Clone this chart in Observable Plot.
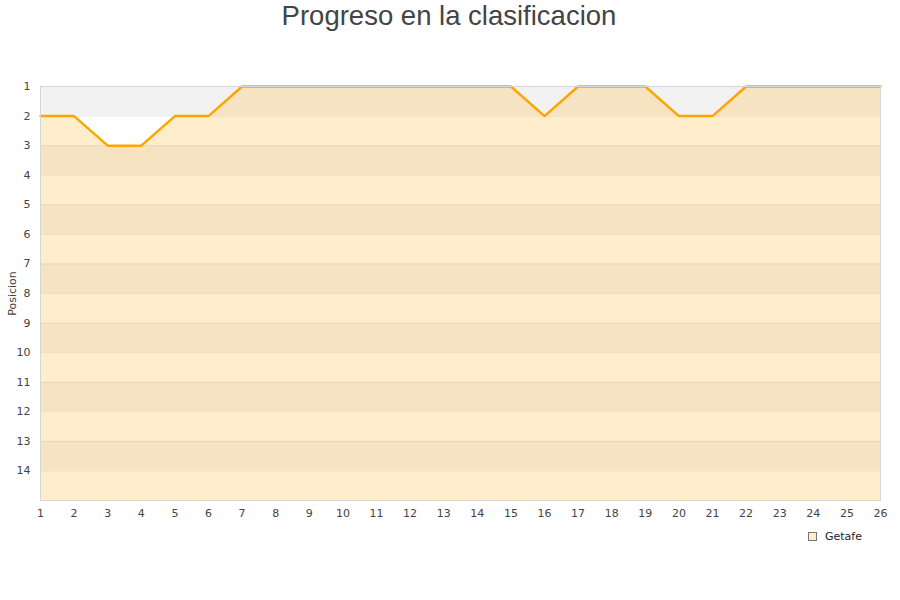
<!DOCTYPE html>
<html><head><meta charset="utf-8">
<script src="https://cdn.jsdelivr.net/npm/d3@7"></script>
<script src="https://cdn.jsdelivr.net/npm/@observablehq/plot@0.6"></script>
<style>
body{margin:0;background:#fff;font-family:"DejaVu Sans",sans-serif;}
#wrap{position:relative;width:900px;height:600px;}
#title{position:absolute;left:0;top:0;width:898px;text-align:center;font-family:"Liberation Sans",Arial,sans-serif;font-size:27.5px;color:#444;line-height:32px;}
#legend{position:absolute;left:808px;top:530px;font-size:11px;color:#222;display:flex;align-items:center;}
#legend span.sw{display:inline-block;width:7px;height:7px;border:1px solid #777;background:#ffedcc;margin-right:8px;}
#chart{position:absolute;left:0;top:0;}
</style></head>
<body><div id="wrap"><div id="title">Progreso en la clasificacion</div><div id="chart"></div><div id="legend"><span class="sw"></span>Getafe</div></div>
<script>
const jornadas = d3.range(1, 27);
const posiciones = [2,2,3,3,2,2,1,1,1,1,1,1,1,1,1,2,1,1,1,2,2,1,1,1,1,1];
const yTicks = d3.range(1, 15);
const equipo = "Getafe";

const data = jornadas.map((j, i) => ({j, p: posiciones[i]}));
const bands = yTicks.map(k => ({k}));
const dark = "#f6e3c2", light = "#ffedcc";

const chart = Plot.plot({
  width: 900, height: 600,
  marginTop: 86, marginBottom: 100, marginLeft: 40, marginRight: 20,
  style: {fontFamily: "DejaVu Sans, sans-serif", fontSize: "11px", color: "#444"},
  x: {domain: [1, 26], ticks: jornadas, tickFormat: d => d},
  y: {domain: [1, 15], reverse: true, ticks: yTicks},
  marks: [
    Plot.rect(bands, {x1: 1, x2: 26, y1: d => d.k, y2: d => d.k + 1, fill: d => d.k % 2 ? dark : light}),
    Plot.areaY(data, {x: "j", y1: 1, y2: "p", fill: "white"}),
    Plot.areaY(data, {x: "j", y1: 1, y2: d => Math.min(d.p, 2), fill: "#f2f2f2"}),
    Plot.ruleY(d3.range(2, 15), {stroke: "#000", strokeOpacity: 0.07}),
    Plot.line(data, {x: "j", y: "p", stroke: "#ffa500", strokeWidth: 2.5}),
    Plot.frame({stroke: "#d6d6d6"}),
    Plot.axisX({ticks: jornadas, tickSize: 0, tickPadding: 9, label: null, fill: "#444"}),
    Plot.axisY({ticks: yTicks, tickSize: 0, tickPadding: 10, label: "Posicion", labelAnchor: "center", labelArrow: false, labelOffset: 32, fill: "#444"})
  ]
});
document.getElementById("chart").appendChild(chart);
</script></body></html>
